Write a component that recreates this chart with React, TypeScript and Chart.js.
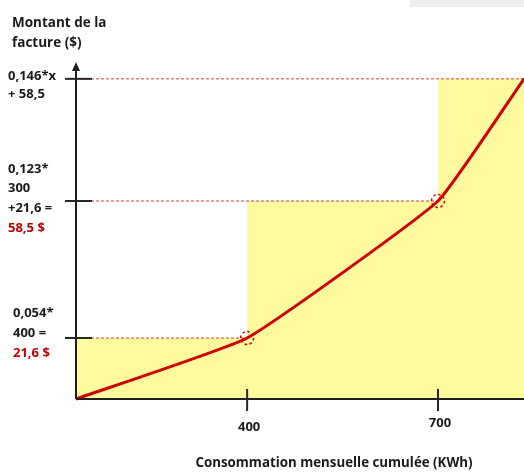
import React, { useEffect, useRef } from 'react';
import { Chart, registerables, LinearScale } from 'chart.js';

// ---------- data ----------
const consumption = [0, 400, 700, 1000]; // kWh breakpoints
const billAmounts = [0, 21.6, 58.5, 102.3]; // $ at each breakpoint
const xTickValues = [400, 700];
const xTickLabels = ['400', '700'];
const yTickValues = [21.6, 58.5, 102.3];
const yTickLabelLines = [
  ['0,054*', '400 =', '21,6 $'],
  ['0,123*', '300', '+21,6 =', '58,5 $'],
  ['0,146*x', '+ 58,5'],
];
const yAxisTitle = ['Montant de la', 'facture ($)'];
const xAxisTitle = 'Consommation mensuelle cumulée (KWh)';

// ---------- layout / style ----------
const W = 524;
const H = 473;
const FONT = '"Open Sans", "Liberation Sans", sans-serif';
const TEXT = '#1a1a1a';
const RED_TEXT = '#c00000';
const LINE_RED = '#d00000';
const YELLOW = '#fffa9e';
// schematic (non-proportional) axes: value stops -> fraction of axis length
const SCALE_STOPS: Record<string, { stops: number[]; fracs: number[] }> = {
  x: { stops: [0, 400, 700, 1000], fracs: [0, 0.382, 0.808, 1] },
  y: { stops: [0, 21.6, 58.5, 102.3, 110], fracs: [0, 0.181, 0.5875, 0.95, 1] },
};
const Y_LABEL = {
  left: [13, 8, 8],
  firstOffset: [-25, -32, -3],
  gap: [20, 19.7, 18],
  redLine: [2, 3, -1],
};
const X_LABEL_OFFSET = [28, 24];

function mapPiece(v: number, from: number[], to: number[]) {
  const n = from.length;
  let i = 0;
  while (i < n - 2 && v > from[i + 1]) i++;
  const t = (v - from[i]) / (from[i + 1] - from[i]);
  return to[i] + t * (to[i + 1] - to[i]);
}

class PiecewiseScale extends LinearScale {
  static id = 'piecewise';
  static defaults = {};
  getPixelForValue(value: any) {
    if (value === null || value === undefined || isNaN(value)) return NaN;
    const cfg = SCALE_STOPS[(this as any).id];
    return this.getPixelForDecimal(mapPiece(value, cfg.stops, cfg.fracs));
  }
  getValueForPixel(pixel: number) {
    const cfg = SCALE_STOPS[(this as any).id];
    return mapPiece(this.getDecimalForPixel(pixel), cfg.fracs, cfg.stops);
  }
}

Chart.register(...registerables, PiecewiseScale);

const schemaPlugin = {
  id: 'schema',
  beforeDraw(chart: any) {
    const { ctx } = chart;
    ctx.save();
    ctx.fillStyle = '#efefef';
    ctx.fillRect(410, 0, W - 410, 7);
    ctx.restore();
  },
  afterDatasetsDraw(chart: any) {
    const { ctx, chartArea } = chart;
    const xs = chart.scales.x;
    const ys = chart.scales.y;
    const x0 = xs.getPixelForValue(0);
    const y0 = ys.getPixelForValue(0);
    ctx.save();
    ctx.strokeStyle = '#1f1f1f';
    ctx.fillStyle = '#1f1f1f';
    ctx.lineWidth = 2;
    ctx.setLineDash([]);
    // x axis
    ctx.beginPath();
    ctx.moveTo(x0, y0);
    ctx.lineTo(chartArea.right, y0);
    ctx.stroke();
    // y axis + arrow
    ctx.beginPath();
    ctx.moveTo(x0, y0);
    ctx.lineTo(x0, chartArea.top + 6);
    ctx.stroke();
    ctx.beginPath();
    ctx.moveTo(x0, chartArea.top);
    ctx.lineTo(x0 - 4, chartArea.top + 9);
    ctx.lineTo(x0 + 4, chartArea.top + 9);
    ctx.closePath();
    ctx.fill();

    ctx.font = `bold 13px ${FONT}`;
    ctx.textBaseline = 'middle';
    // y ticks
    yTickValues.forEach((v, i) => {
      const py = ys.getPixelForValue(v);
      ctx.strokeStyle = '#262626';
      ctx.beginPath();
      ctx.moveTo(x0 - 11, py);
      ctx.lineTo(x0 + 16, py);
      ctx.stroke();
      ctx.textAlign = 'left';
      yTickLabelLines[i].forEach((t, j) => {
        ctx.fillStyle = j === Y_LABEL.redLine[i] ? RED_TEXT : TEXT;
        ctx.fillText(t, Y_LABEL.left[i], py + Y_LABEL.firstOffset[i] + j * Y_LABEL.gap[i]);
      });
    });
    // x ticks
    xTickValues.forEach((v, i) => {
      const px = xs.getPixelForValue(v);
      ctx.strokeStyle = '#262626';
      ctx.beginPath();
      ctx.moveTo(px, y0 - 10);
      ctx.lineTo(px, y0 + 12);
      ctx.stroke();
      ctx.fillStyle = TEXT;
      ctx.textAlign = 'center';
      ctx.fillText(xTickLabels[i], px + 2, y0 + X_LABEL_OFFSET[i]);
    });
    // dashed circles at breakpoints
    ctx.strokeStyle = LINE_RED;
    ctx.lineWidth = 1.5;
    ctx.setLineDash([2.5, 2.5]);
    for (let i = 1; i < consumption.length - 1; i++) {
      const px = xs.getPixelForValue(consumption[i]);
      const py = ys.getPixelForValue(billAmounts[i]);
      ctx.beginPath();
      ctx.arc(px, py, 6.5, 0, Math.PI * 2);
      ctx.stroke();
    }
    ctx.setLineDash([]);
    // axis titles
    ctx.fillStyle = TEXT;
    ctx.font = `bold 13.5px ${FONT}`;
    ctx.textAlign = 'left';
    yAxisTitle.forEach((t, j) => ctx.fillText(t, 12, 23 + j * 20));
    ctx.font = `bold 13.3px ${FONT}`;
    ctx.textAlign = 'center';
    ctx.fillText(xAxisTitle, 334, 463);
    ctx.restore();
  },
};

export default function App() {
  const ref = useRef<HTMLCanvasElement>(null);
  useEffect(() => {
    if (!ref.current) return;
    const lineData = consumption.map((x, i) => ({ x, y: billAmounts[i] }));
    const stepData: { x: number; y: number }[] = [];
    for (let i = 0; i < consumption.length - 1; i++) {
      stepData.push({ x: consumption[i], y: billAmounts[i + 1] });
      stepData.push({ x: consumption[i + 1], y: billAmounts[i + 1] });
    }
    const guides = billAmounts.slice(1).map((b, k) => ({
      type: 'line',
      data: [
        { x: 0, y: b },
        { x: consumption[k + 1], y: b },
      ],
      borderColor: 'rgba(200,30,30,0.85)',
      borderWidth: 1,
      borderDash: [3, 2],
      pointRadius: 0,
      fill: false,
      tension: 0,
      order: 1,
      clip: false,
    }));
    const chart = new Chart(ref.current, {
      type: 'line',
      data: {
        datasets: [
          {
            data: lineData,
            borderColor: LINE_RED,
            borderWidth: 3,
            pointRadius: 0,
            fill: false,
            tension: 0.12,
            order: 0,
            clip: 4,
          } as any,
          ...(guides as any[]),
          {
            data: stepData,
            borderWidth: 0,
            borderColor: 'rgba(0,0,0,0)',
            backgroundColor: YELLOW,
            pointRadius: 0,
            fill: 'origin',
            tension: 0,
            order: 2,
          },
        ],
      },
      options: {
        animation: false,
        responsive: false,
        events: [],
        layout: { padding: { left: 76, right: 0, top: 62, bottom: H - 399 } },
        plugins: { legend: { display: false }, tooltip: { enabled: false } },
        scales: {
          x: { type: 'piecewise' as any, min: 0, max: 1000, display: false },
          y: { type: 'piecewise' as any, min: 0, max: 110, display: false },
        },
      },
      plugins: [schemaPlugin],
    });
    return () => chart.destroy();
  }, []);
  return (
    <div style={{ position: 'absolute', left: 0, top: 0, width: W, height: H, background: '#fff' }}>
      <canvas ref={ref} width={W} height={H} style={{ width: W, height: H, display: 'block' }} />
    </div>
  );
}
